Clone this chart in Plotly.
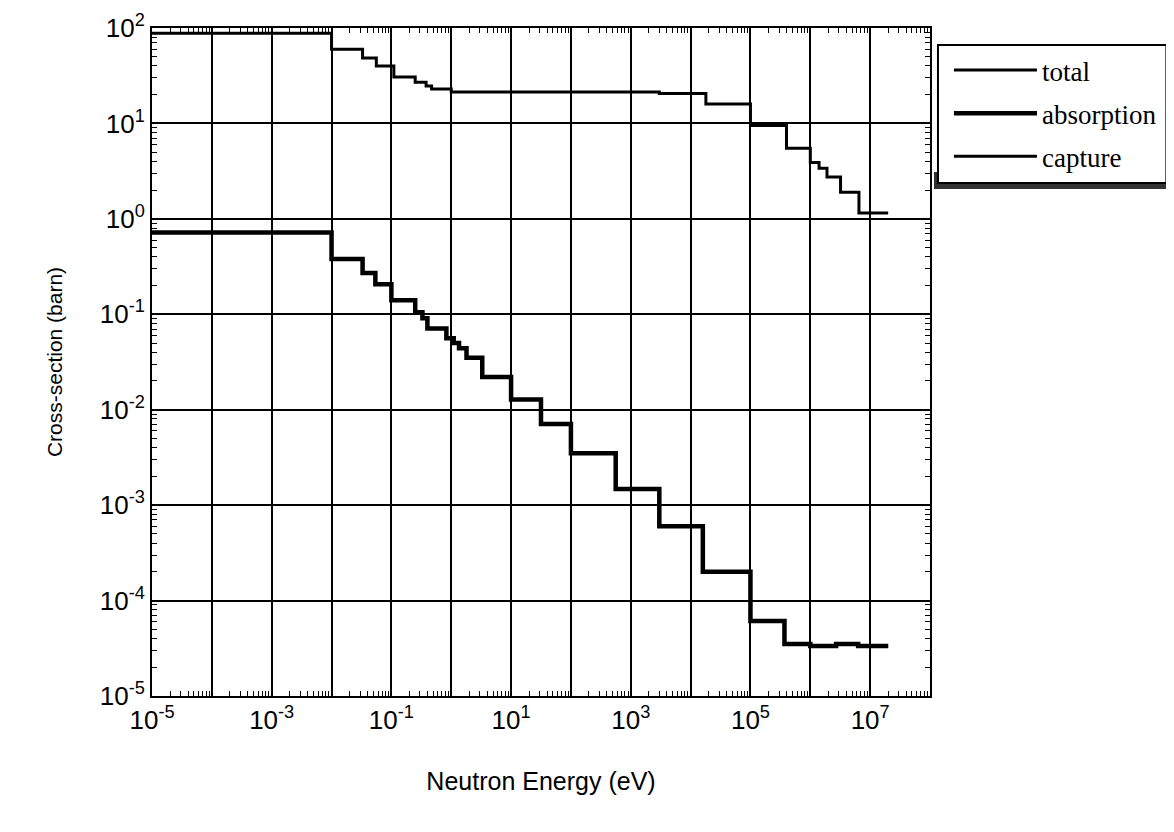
import plotly.graph_objects as go

# Group boundaries (eV) and group-averaged cross-sections (barn)
total_edges = [1e-5, 1e-2, 0.033, 0.056, 0.11, 0.25, 0.38, 0.47, 1.0, 3e3, 1.8e4,
               1e5, 4e5, 1e6, 1.4e6, 1.9e6, 3.2e6, 6.5e6, 2e7]
total_values = [88, 60, 48.5, 40, 30.6, 27, 24.7, 23, 21.4, 20.6, 16,
                9.5, 5.5, 3.9, 3.4, 2.75, 1.9, 1.15]

capture_edges = [1e-5, 1e-2, 0.033, 0.054, 0.1, 0.25, 0.33, 0.4, 0.83, 1.1, 1.35, 1.8,
                 3.3, 10, 31.6, 100, 560, 3000, 1.6e4, 1e5, 3.7e5, 1e6, 2.7e6, 6.3e6, 2e7]
capture_values = [0.72, 0.38, 0.27, 0.207, 0.14, 0.105, 0.091, 0.071, 0.056, 0.05, 0.044,
                  0.035, 0.022, 0.0128, 0.0071, 0.0035, 0.00148, 0.0006, 0.0002,
                  6.1e-5, 3.5e-5, 3.35e-5, 3.5e-5, 3.35e-5]

absorption_edges = capture_edges
absorption_values = capture_values

x_decades = list(range(-5, 9))
x_labeled = [-5, -3, -1, 1, 3, 5, 7]
y_decades = list(range(-5, 3))

def step_y(vals):
    return vals + [vals[-1]]

fig = go.Figure()
fig.add_trace(go.Scatter(x=total_edges, y=step_y(total_values), mode="lines",
                         line=dict(shape="hv", color="black", width=3),
                         name="total", legendgroup="a"))
fig.add_trace(go.Scatter(x=absorption_edges, y=step_y(absorption_values), mode="lines",
                         line=dict(shape="hv", color="black", width=4.5),
                         name="absorption", legendgroup="b"))
fig.add_trace(go.Scatter(x=capture_edges, y=step_y(capture_values), mode="lines",
                         line=dict(shape="hv", color="black", width=3),
                         name="capture", legendgroup="c"))

xtickvals = [10.0 ** d for d in x_decades]
xticktext = [("10<sup>%d</sup>" % d) if d in x_labeled else "" for d in x_decades]
ytickvals = [10.0 ** d for d in y_decades]
yticktext = ["10<sup>%d</sup>" % d for d in y_decades]

axis_common = dict(
    type="log", showline=True, linecolor="black", linewidth=2, mirror="allticks",
    showgrid=True, gridcolor="black", gridwidth=1.5,
    ticks="inside", ticklen=6, tickcolor="black", tickwidth=1.5,
    tickfont=dict(family="Liberation Sans, Arial", size=26, color="black"),
    minor=dict(ticks="inside", ticklen=5, tickcolor="black", tickwidth=1, dtick="D1", showgrid=False),
    zeroline=False, automargin=False,
)

fig.update_xaxes(**axis_common, range=[-5, 8], tickmode="array", tickvals=xtickvals, ticktext=xticktext,
                 title=dict(text="Neutron Energy (eV)", standoff=38,
                            font=dict(family="Liberation Sans, Arial", size=25, color="black")))
fig.update_yaxes(**axis_common, range=[-5, 2], tickmode="array", tickvals=ytickvals, ticktext=yticktext,
                 title=dict(text="Cross-section (barn)", standoff=31,
                            font=dict(family="Liberation Sans, Arial", size=21, color="black")))

# page has an 8px body margin; target plot area is x 152..932, y 28..696 on screen
OFF = 8
W, H = 1166, 824
L, T = 152 - OFF, 28 - OFF
R = W - (932 - OFF)
B = H - (696 - OFF)
pw, ph = W - L - R, H - T - B

def px(xp):
    return (xp - OFF - L) / pw

def py(yp):
    return (H - B - (yp - OFF)) / ph

# legend frame with drop shadow along the bottom (screen px 939..1170, 45..183)
fig.add_shape(type="rect", xref="paper", yref="paper",
              x0=px(936), x1=px(1169), y0=py(189), y1=py(172),
              fillcolor="#333333", line=dict(width=0), layer="above")
fig.add_shape(type="rect", xref="paper", yref="paper",
              x0=px(940), x1=px(1169), y0=py(183), y1=py(45),
              fillcolor="white", line=dict(color="black", width=2), layer="above")

fig.update_layout(
    width=W, height=H,
    margin=dict(l=L, r=R, t=T, b=B),
    plot_bgcolor="white", paper_bgcolor="white",
    showlegend=True,
    legend=dict(x=px(951), y=py(46), xanchor="left", yanchor="top",
                bgcolor="rgba(0,0,0,0)", borderwidth=0,
                font=dict(family="Liberation Serif, Times New Roman", size=27, color="black"),
                itemwidth=83, tracegroupgap=5),
)

fig.write_html("out.html")
